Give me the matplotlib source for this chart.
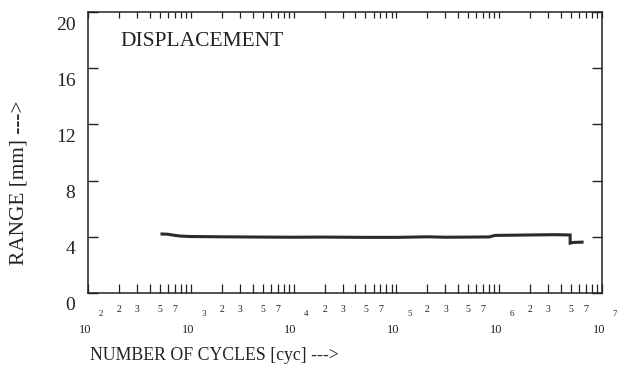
import numpy as np
import matplotlib
matplotlib.use("Agg")
import matplotlib.pyplot as plt
from matplotlib.transforms import offset_copy, ScaledTranslation

# ---- data ----
cycles = [525, 600, 700, 800, 1000, 2000, 5000, 1e4, 2e4, 5e4, 1e5, 2e5, 3e5,
          5e5, 8e5, 9.1e5, 2e6, 3.5e6, 4.9e6, 4.9e6, 5.3e6, 6.4e6]
range_mm = [4.2, 4.18, 4.1, 4.05, 4.02, 4.0, 3.98, 3.97, 3.98, 3.96, 3.96, 4.0,
            3.97, 3.98, 3.99, 4.1, 4.13, 4.15, 4.13, 3.55, 3.6, 3.62]

y_ticks = [0, 4, 8, 12, 16, 20]
y_tick_labels = ["0", "4", "8", "12", "16", "20"]
decade_exps = [2, 3, 4, 5, 6, 7]
minor_mults = [2, 3, 4, 5, 6, 7, 8, 9]
labelled_mults = [2, 3, 5, 7]

title_text = "DISPLACEMENT"
x_label = "NUMBER OF CYCLES [cyc] --->"
y_label = "RANGE [mm] --->"

plt.rcParams["font.family"] = ["Liberation Serif", "DejaVu Serif"]
ink = "#222222"

fig = plt.figure(figsize=(6.17, 3.74), dpi=100)
W, H = 617, 374
ax = fig.add_axes([88 / W, 1 - 293 / H, (602 - 88) / W, (293 - 12) / H])

ax.plot(cycles, range_mm, color="#2a2a2a", lw=2.2, solid_joinstyle="miter")

ax.set_xscale("log")
ax.set_xlim(10 ** decade_exps[0], 10 ** decade_exps[-1])
ax.set_ylim(0, 20)

for s in ax.spines.values():
    s.set_color(ink)
    s.set_linewidth(1.1)

# x ticks
decades = [10.0 ** e for e in decade_exps]
minors = [m * 10.0 ** e for e in decade_exps[:-1] for m in minor_mults]
ax.set_xticks(decades)
ax.set_xticklabels([""] * len(decades))
ax.set_xticks(minors, minor=True)
ax.set_xticklabels([str(m) if m in labelled_mults else "" for e in decade_exps[:-1] for m in minor_mults],
                   minor=True)
ax.tick_params(axis="x", which="both", direction="in", length=6.5, width=0.9,
               color=ink, bottom=True, top=False, pad=8.5, labelsize=7, labelcolor=ink)

top = ax.secondary_xaxis("top")
top.set_xticks(decades)
top.set_xticks(minors, minor=True)
top.tick_params(axis="x", which="both", direction="in", length=4, width=0.9, color=ink,
                labeltop=False)
top.set_xticklabels([""] * len(decades))
top.set_xticklabels([""] * len(minors), minor=True)
top.spines["top"].set_visible(False)

# decade labels "10" with offset exponent
xtr = ax.get_xaxis_transform()
t10 = offset_copy(xtr, fig=fig, x=-3, y=-37, units="dots")
texp = offset_copy(xtr, fig=fig, x=13, y=-21, units="dots")
for e in decade_exps:
    ax.text(10.0 ** e, 0, "10", transform=t10, ha="center", va="center",
            fontsize=9, color=ink)
    ax.text(10.0 ** e, 0, str(e), transform=texp, ha="center", va="center",
            fontsize=6.5, color=ink)

# y ticks
ax.set_yticks(y_ticks)
ax.set_yticklabels(y_tick_labels)
ax.tick_params(axis="y", which="both", direction="in", length=7, width=1.0, color=ink,
               left=True, right=True, pad=9, labelsize=14, labelcolor=ink)
shift = ScaledTranslation(0, -11 / 100, fig.dpi_scale_trans)
for lab in ax.get_yticklabels():
    lab.set_transform(lab.get_transform() + shift)

ax.text((120 - 88) / 514, (293 - 42) / 281, title_text, transform=ax.transAxes,
        ha="left", va="center", fontsize=15.5, color=ink)

fig.text(90 / W, 1 - 355 / H, x_label, ha="left", va="center", fontsize=12.8, color=ink)
fig.text(19 / W, 1 - 183 / H, y_label, ha="center", va="center", rotation=90,
         fontsize=15.3, color=ink)

fig.savefig("out.png", dpi=100, facecolor="white")
